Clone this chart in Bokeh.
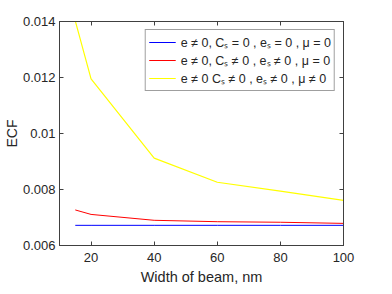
from bokeh.plotting import figure
from bokeh.models import LinearAxis, FixedTicker, Legend, LegendItem, Range1d, CustomJSTickFormatter
from bokeh.embed import file_html
from bokeh.resources import INLINE

width_nm = [15, 20, 40, 60, 80, 100]
ecf_blue = [0.00672, 0.00672, 0.00672, 0.00672, 0.00672, 0.00672]
ecf_red = [0.00727, 0.00711, 0.00690, 0.00685, 0.00683, 0.00679]
ecf_yellow = [0.01402, 0.01195, 0.00912, 0.00826, 0.00794, 0.00761]

x_ticks = [20, 40, 60, 80, 100]
y_ticks = [0.006, 0.008, 0.010, 0.012, 0.014]
y_tick_labels = ["0.006", "0.008", "0.01", "0.012", "0.014"]

labels = [
    "e \u2260 0, C\u209b = 0 , e\u209b = 0 , \u03bc = 0",
    "e \u2260 0, C\u209b \u2260 0 , e\u209b \u2260 0 , \u03bc = 0",
    "e \u2260 0 C\u209b \u2260 0 , e\u209b \u2260 0 , \u03bc \u2260 0",
]

FONT = "Liberation Sans"
AX = "#404040"

p = figure(frame_width=284, frame_height=224, output_backend="svg", toolbar_location=None,
           x_range=Range1d(10, 100), y_range=Range1d(0.006, 0.014),
           min_border_left=51, min_border_right=30, min_border_top=21,
           min_border_bottom=40)
p.background_fill_color = "white"
p.border_fill_color = "white"
p.outline_line_color = AX
p.outline_line_width = 1
p.grid.visible = False

r1 = p.line(width_nm, ecf_blue, line_color="#0000ff", line_width=1)
r2 = p.line(width_nm, ecf_red, line_color="#ff0000", line_width=1)
r3 = p.line(width_nm, ecf_yellow, line_color="#ffff00", line_width=1.2)

def style(ax):
    ax.axis_line_color = AX
    ax.major_tick_line_color = AX
    ax.major_tick_in = 4
    ax.major_tick_out = 0
    ax.minor_tick_line_color = None
    ax.major_label_text_font = FONT
    ax.major_label_text_font_size = "13px"
    ax.major_label_text_color = "#262626"
    ax.axis_label_text_font = FONT
    ax.axis_label_text_font_size = "14.5px"
    ax.axis_label_text_font_style = "normal"
    ax.axis_label_text_color = "#262626"

xa = p.xaxis[0]
xa.ticker = FixedTicker(ticks=x_ticks)
xa.axis_label = "Width of beam, nm"
style(xa)
xa.major_label_standoff = 7
xa.axis_label_standoff = 4

ya = p.yaxis[0]
ya.ticker = FixedTicker(ticks=y_ticks)
ya.major_label_overrides = {t: l for t, l in zip(y_ticks, y_tick_labels)}
ya.axis_label = "ECF"
style(ya)
ya.axis_label_text_font_size = "14px"
ya.major_label_standoff = 4
ya.axis_label_standoff = 0

blank = CustomJSTickFormatter(code="return '';")
top = LinearAxis(ticker=FixedTicker(ticks=x_ticks), formatter=blank)
style(top)
top.major_label_standoff = 0
p.add_layout(top, "above")
right = LinearAxis(ticker=FixedTicker(ticks=y_ticks), formatter=blank)
style(right)
right.major_label_standoff = 0
p.add_layout(right, "right")

legend = Legend(items=[LegendItem(label=labels[0], renderers=[r1]),
                       LegendItem(label=labels[1], renderers=[r2]),
                       LegendItem(label=labels[2], renderers=[r3])],
                location="top_right")
legend.margin = 8
legend.padding = 3
legend.spacing = 0
legend.glyph_width = 27
legend.glyph_height = 18
legend.label_standoff = 5
legend.label_height = 18
legend.label_text_font = FONT
legend.label_text_font_size = "12.5px"
legend.label_text_color = "#262626"
legend.border_line_color = AX
legend.border_line_width = 1
legend.background_fill_color = "white"
legend.background_fill_alpha = 1
p.add_layout(legend, "center")

open("out.html", "w").write(file_html(p, INLINE))
